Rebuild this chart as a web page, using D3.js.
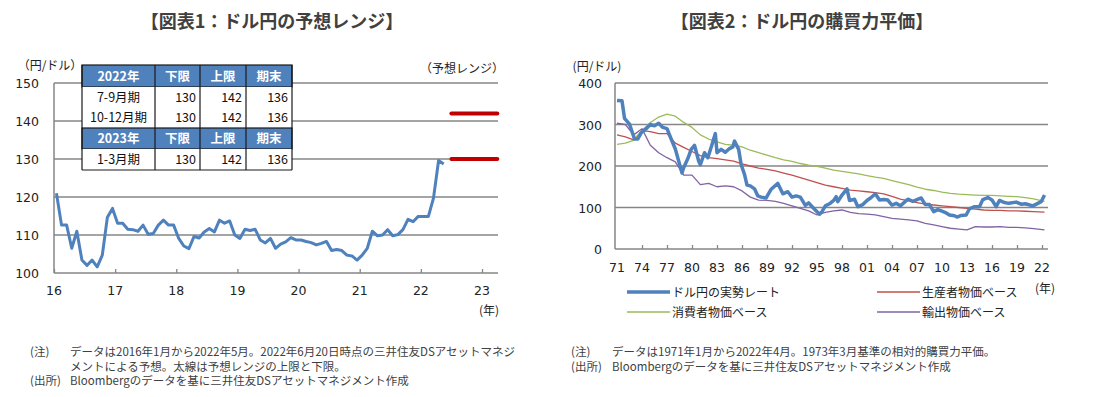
<!DOCTYPE html>
<html>
<head>
<meta charset="utf-8">
<script src="https://cdn.jsdelivr.net/npm/d3@7"></script>
<style>
  body { margin: 0; background: #fff; }
  svg { display: block; }
  text { font-family: "Noto Sans CJK JP", "DejaVu Sans", sans-serif; fill: #404040; }
  .num { font-family: "DejaVu Sans", sans-serif; }
</style>
</head>
<body>
<div id="chart"></div>
<script>
// ---- chart 1 data: monthly USD/JPY, Jan 2016 - May 2022
var usdjpyStart = 2016;
var usdjpyMonthly = [
  121.0, 112.6, 112.6, 106.5, 111.0, 103.4, 102.0, 103.4, 101.6, 104.7, 114.7, 117.0,
  113.1, 113.1, 111.5, 111.4, 111.0, 112.6, 110.2, 110.4, 112.6, 113.9, 112.6, 112.6,
  109.1, 107.1, 106.4, 109.6, 109.2, 110.8, 111.7, 110.8, 113.9, 113.1, 113.7, 110.0,
  109.1, 111.5, 111.2, 111.5, 108.7, 107.9, 109.1, 106.5, 107.6, 108.2, 109.3, 108.7,
  108.7, 108.3, 108.0, 107.4, 107.8, 108.3, 105.9, 106.2, 105.9, 104.7, 104.5, 103.4,
  104.7, 106.5, 111.0, 109.8, 110.0, 111.4, 109.8, 110.1, 111.4, 114.1, 113.5, 114.9,
  114.9, 114.9, 119.7, 129.6, 128.7
];
var forecastPeriod = [2022.5, 2023.25];
var forecastLow = 130, forecastHigh = 142;
var years1 = [16, 17, 18, 19, 20, 21, 22, 23];
var yTicks1 = [100, 110, 120, 130, 140, 150];

var tableRows = [
  {head: true,  cells: ['2022年', '下限', '上限', '期末']},
  {head: false, cells: ['7-9月期', 130, 142, 136]},
  {head: false, cells: ['10-12月期', 130, 142, 136]},
  {head: true,  cells: ['2023年', '下限', '上限', '期末']},
  {head: false, cells: ['1-3月期', 130, 142, 136]}
];

// ---- chart 2 data: actual rate and PPP lines
var rateYears = [1971.0, 1971.6, 1971.9, 1972.5, 1973.1, 1973.5, 1973.9, 1974.5, 1975.0, 1975.5, 1976.0, 1976.5,
  1977.0, 1977.5, 1978.0, 1978.5, 1978.8, 1979.0, 1979.5, 1979.9, 1980.3, 1980.8, 1981.0, 1981.5, 1981.9,
  1982.3, 1982.8, 1983.0, 1983.5, 1984.0, 1984.5, 1984.9, 1985.1, 1985.6, 1985.9, 1986.3, 1986.6, 1987.0,
  1987.5, 1987.9, 1988.3, 1988.9, 1989.5, 1990.3, 1990.9, 1991.5, 1992.0, 1992.5, 1993.0, 1993.6, 1994.0,
  1994.5, 1995.3, 1995.6, 1996.0, 1996.5, 1997.0, 1997.3, 1997.5, 1998.0, 1998.6, 1998.9, 1999.5, 1999.9,
  2000.5, 2001.0, 2001.5, 2002.0, 2002.5, 2003.0, 2003.5, 2004.0, 2004.5, 2005.0, 2005.9, 2006.5, 2007.5,
  2008.0, 2008.5, 2009.0, 2009.5, 2010.0, 2010.5, 2010.9, 2011.5, 2011.8, 2012.3, 2012.9, 2013.3, 2013.9,
  2014.5, 2014.9, 2015.5, 2016.0, 2016.5, 2016.9, 2017.5, 2018.0, 2018.9, 2019.5, 2020.0, 2020.9, 2021.5,
  2021.9, 2022.3];
var rateValues = [358, 357, 315, 301, 265, 265, 280, 290, 300, 297, 303, 293,
  290, 265, 241, 205, 183, 196, 218, 240, 250, 212, 203, 232, 220,
  245, 278, 232, 240, 233, 242, 246, 260, 240, 203, 180, 154, 152,
  145, 128, 125, 123, 144, 158, 133, 138, 125, 128, 125, 105, 111,
  100, 84, 90, 104, 109, 117, 126, 114, 130, 145, 117, 120, 102,
  107, 117, 124, 133, 118, 119, 118, 106, 110, 104, 120, 115, 123,
  107, 107, 90, 95, 91, 87, 82, 80, 77, 81, 82, 97, 102,
  102, 119, 124, 118, 102, 117, 112, 110, 113, 108, 109, 104, 110,
  114, 130];

var pppYears = [1971, 1972, 1973, 1974, 1975, 1976, 1977, 1978, 1979, 1980, 1981, 1982, 1983, 1984, 1985,
  1986, 1987, 1988, 1989, 1990, 1991, 1992, 1993, 1994, 1995, 1996, 1997, 1998, 1999, 2000, 2001, 2002,
  2003, 2004, 2005, 2006, 2007, 2008, 2009, 2010, 2011, 2012, 2013, 2014, 2015, 2016, 2017, 2018, 2019,
  2020, 2021, 2022.3];
var pppProducer = [275, 270, 263, 285, 283, 278, 278, 255, 245, 235, 225, 220, 218, 215, 212,
  205, 200, 195, 192, 188, 183, 178, 172, 166, 160, 154, 150, 146, 142, 140, 138, 136,
  133, 127, 120, 116, 112, 108, 106, 104, 102, 100, 98, 96, 94, 93, 93, 92, 92,
  91, 90, 89];
var pppConsumer = [252, 255, 262, 285, 305, 318, 325, 320, 305, 293, 275, 265, 258, 252, 250,
  246, 238, 232, 226, 220, 215, 211, 206, 202, 199, 195, 190, 187, 184, 181, 177, 173,
  170, 165, 160, 155, 149, 144, 141, 137, 134, 132, 131, 130, 129, 129, 128, 127, 126,
  124, 121, 115];
var pppExport = [303, 300, 275, 290, 250, 232, 220, 210, 178, 178, 155, 158, 150, 152, 150,
  140, 125, 118, 117, 115, 110, 104, 98, 92, 82, 88, 92, 94, 88, 85, 84, 82,
  78, 74, 72, 70, 68, 62, 58, 54, 50, 48, 46, 54, 53, 53, 54, 52, 52,
  51, 49, 46];
var years2 = ['71', '74', '77', '80', '83', '86', '89', '92', '95', '98', '01', '04', '07', '10', '13', '16', '19', '22'];
var yTicks2 = [0, 100, 200, 300, 400];

var series2 = [
  {name: 'ドル円の実勢レート', x: rateYears, y: rateValues, color: '#4F81BD', w: 3.5},
  {name: '生産者物価ベース', x: pppYears, y: pppProducer, color: '#C0504D', w: 1.3},
  {name: '消費者物価ベース', x: pppYears, y: pppConsumer, color: '#9BBB59', w: 1.3},
  {name: '輸出物価ベース', x: pppYears, y: pppExport, color: '#8064A2', w: 1.3}
];

var svg = d3.select('#chart').append('svg')
  .attr('width', 1099)
  .attr('height', 397);

var grid = '#868686';

// ================= chart 1 =================
var x1 = d3.scaleLinear().domain([2016, 2023]).range([54, 482]);
var y1 = d3.scaleLinear().domain([100, 150]).range([273, 83]);

svg.append('text').attr('x', 272).attr('y', 28).attr('text-anchor', 'middle')
  .style('font-size', '18px').style('font-weight', 'bold').text('【図表1：ドル円の予想レンジ】');

var g1 = svg.append('g');
g1.selectAll('.grid1').data(yTicks1.slice(1)).enter().append('line')
  .attr('x1', 54).attr('x2', 498)
  .attr('y1', function(d){ return y1(d); }).attr('y2', function(d){ return y1(d); })
  .attr('stroke', grid).attr('stroke-width', 1.3);

var xAxis1 = g1.append('g').attr('transform', 'translate(0,273)')
  .call(d3.axisBottom(x1).tickValues(d3.range(2016, 2024)).tickSize(-4).tickFormat(''));
xAxis1.select('.domain').remove();
xAxis1.selectAll('.tick line').attr('stroke', grid).attr('stroke-width', 1.3);
g1.append('line').attr('x1', 54).attr('x2', 498).attr('y1', 273).attr('y2', 273)
  .attr('stroke', grid).attr('stroke-width', 1.5);
g1.append('line').attr('x1', 54).attr('x2', 54).attr('y1', 83).attr('y2', 273)
  .attr('stroke', grid).attr('stroke-width', 1.5);

g1.selectAll('.ylab1').data(yTicks1).enter().append('text')
  .attr('class', 'num').attr('x', 39).attr('y', function(d){ return y1(d) + 5; })
  .attr('text-anchor', 'end').style('font-size', '12.5px').style('fill', '#222').text(function(d){ return d; });
g1.selectAll('.xlab1').data(years1).enter().append('text')
  .attr('class', 'num').attr('x', function(d){ return x1(2000 + d); }).attr('y', 295)
  .attr('text-anchor', 'middle').style('font-size', '12.5px').style('fill', '#222').text(function(d){ return d; });
g1.append('text').attr('x', 50).attr('y', 70).attr('text-anchor', 'middle')
  .style('font-size', '12px').style('fill', '#222').text('（円/ドル）');
g1.append('text').attr('x', 462).attr('y', 73).attr('text-anchor', 'middle')
  .style('font-size', '12px').style('fill', '#222').text('（予想レンジ）');
g1.append('text').attr('x', 489).attr('y', 315).attr('text-anchor', 'middle')
  .style('font-size', '12px').style('fill', '#222').text('(年)');

var line1 = d3.line()
  .x(function(d, i){ return x1(usdjpyStart + i / 12 + 0.04); })
  .y(function(d){ return y1(d); });
g1.append('path').datum(usdjpyMonthly).attr('d', line1)
  .attr('fill', 'none').attr('stroke', '#4F81BD').attr('stroke-width', 3).attr('stroke-linejoin', 'round');

g1.selectAll('.range').data([forecastHigh, forecastLow]).enter().append('line')
  .attr('x1', x1(forecastPeriod[0])).attr('x2', x1(forecastPeriod[1]))
  .attr('y1', function(d){ return y1(d); }).attr('y2', function(d){ return y1(d); })
  .attr('stroke', '#C00000').attr('stroke-width', 4).attr('stroke-linecap', 'round');

// table
var colX = [82, 155, 200, 246, 292];
var rowY = [65, 87, 107, 128, 149, 170];
var tbl = svg.append('g');
tableRows.forEach(function(r, ri){
  var top = rowY[ri], h = rowY[ri + 1] - rowY[ri];
  tbl.append('rect').attr('x', colX[0]).attr('y', top).attr('width', colX[4] - colX[0]).attr('height', h)
    .attr('fill', r.head ? '#4F81BD' : '#fff');
  r.cells.forEach(function(c, ci){
    var center = ci === 0 || r.head;
    tbl.append('text')
      .attr('x', center ? (colX[ci] + colX[ci + 1]) / 2 : colX[ci + 1] - 4)
      .attr('y', top + h / 2 + 4.5)
      .attr('text-anchor', center ? 'middle' : 'end')
      .style('font-size', '12.5px')
      .style('font-weight', r.head ? 'bold' : 'normal')
      .style('fill', r.head ? '#fff' : '#111')
      .text(c);
  });
  if (r.head) {
    tbl.append('rect').attr('x', colX[0]).attr('y', top).attr('width', colX[4] - colX[0]).attr('height', h)
      .attr('fill', 'none').attr('stroke', '#1a1a1a').attr('stroke-width', 1.2);
  }
});
colX.forEach(function(cx){
  tbl.append('line').attr('x1', cx).attr('x2', cx).attr('y1', rowY[0]).attr('y2', rowY[5])
    .attr('stroke', '#1a1a1a').attr('stroke-width', 1.2);
});
tbl.append('line').attr('x1', colX[0]).attr('x2', colX[4]).attr('y1', rowY[5]).attr('y2', rowY[5])
  .attr('stroke', '#1a1a1a').attr('stroke-width', 1.2);

// notes 1
var notes1 = [
  ['(注)', 'データは2016年1月から2022年5月。2022年6月20日時点の三井住友DSアセットマネジ'],
  ['', 'メントによる予想。太線は予想レンジの上限と下限。'],
  ['(出所)', 'Bloombergのデータを基に三井住友DSアセットマネジメント作成']
];
notes1.forEach(function(n, i){
  svg.append('text').attr('x', 30).attr('y', 356 + i * 14.5).style('font-size', '11.5px').text(n[0]);
  svg.append('text').attr('x', 70).attr('y', 356 + i * 14.5).style('font-size', '11.5px').text(n[1]);
});

// ================= chart 2 =================
var x2 = d3.scaleLinear().domain([1971, 2022]).range([617, 1042]);
var y2 = d3.scaleLinear().domain([0, 400]).range([249, 83]);

svg.append('text').attr('x', 802).attr('y', 28).attr('text-anchor', 'middle')
  .style('font-size', '18px').style('font-weight', 'bold').text('【図表2：ドル円の購買力平価】');

var g2 = svg.append('g');
g2.selectAll('.grid2').data(yTicks2.slice(1)).enter().append('line')
  .attr('x1', 615).attr('x2', 1048)
  .attr('y1', function(d){ return y2(d); }).attr('y2', function(d){ return y2(d); })
  .attr('stroke', grid).attr('stroke-width', 1.3);

var xAxis2 = g2.append('g').attr('transform', 'translate(0,249)')
  .call(d3.axisBottom(x2).tickValues(d3.range(1974, 2023, 3)).tickSize(-4).tickFormat(''));
xAxis2.select('.domain').remove();
xAxis2.selectAll('.tick line').attr('stroke', grid).attr('stroke-width', 1.3);
g2.append('line').attr('x1', 615).attr('x2', 1048).attr('y1', 249).attr('y2', 249)
  .attr('stroke', grid).attr('stroke-width', 1.5);
g2.append('line').attr('x1', 615).attr('x2', 615).attr('y1', 83).attr('y2', 249)
  .attr('stroke', grid).attr('stroke-width', 1.5);

g2.selectAll('.ylab2').data(yTicks2).enter().append('text')
  .attr('class', 'num').attr('x', 602).attr('y', function(d){ return y2(d) + 5; })
  .attr('text-anchor', 'end').style('font-size', '12.5px').style('fill', '#222').text(function(d){ return d; });
g2.selectAll('.xlab2').data(years2).enter().append('text')
  .attr('class', 'num').attr('x', function(d, i){ return x2(1971 + i * 3); }).attr('y', 272)
  .attr('text-anchor', 'middle').style('font-size', '12.5px').style('fill', '#222').text(function(d){ return d; });
g2.append('text').attr('x', 597).attr('y', 71).attr('text-anchor', 'middle')
  .style('font-size', '12px').style('fill', '#222').text('(円/ドル)');
g2.append('text').attr('x', 1045).attr('y', 293).attr('text-anchor', 'middle')
  .style('font-size', '12px').style('fill', '#222').text('(年)');

var line2 = d3.line().x(function(d){ return x2(d[0]); }).y(function(d){ return y2(d[1]); });
// draw thin PPP lines first, actual rate on top
[1, 2, 3, 0].forEach(function(k){
  var s = series2[k];
  var pts = s.x.map(function(v, i){ return [v, s.y[i]]; });
  g2.append('path').datum(pts).attr('d', line2)
    .attr('fill', 'none').attr('stroke', s.color).attr('stroke-width', s.w).attr('stroke-linejoin', 'round');
});

// legend
var legPos = [[627, 292], [877, 292], [627, 312], [877, 312]];
series2.forEach(function(s, i){
  var p = legPos[i];
  svg.append('line').attr('x1', p[0]).attr('x2', p[0] + 43).attr('y1', p[1]).attr('y2', p[1])
    .attr('stroke', s.color).attr('stroke-width', i === 0 ? 3.5 : 1.3);
  svg.append('text').attr('x', p[0] + 45).attr('y', p[1] + 4.5).style('font-size', '12px')
    .style('fill', '#222').text(s.name);
});

// notes 2
var notes2 = [
  ['(注)', 'データは1971年1月から2022年4月。1973年3月基準の相対的購買力平価。'],
  ['(出所)', 'Bloombergのデータを基に三井住友DSアセットマネジメント作成']
];
notes2.forEach(function(n, i){
  svg.append('text').attr('x', 571).attr('y', 356 + i * 14.5).style('font-size', '11.5px').text(n[0]);
  svg.append('text').attr('x', 612).attr('y', 356 + i * 14.5).style('font-size', '11.5px').text(n[1]);
});
</script>
</body>
</html>
